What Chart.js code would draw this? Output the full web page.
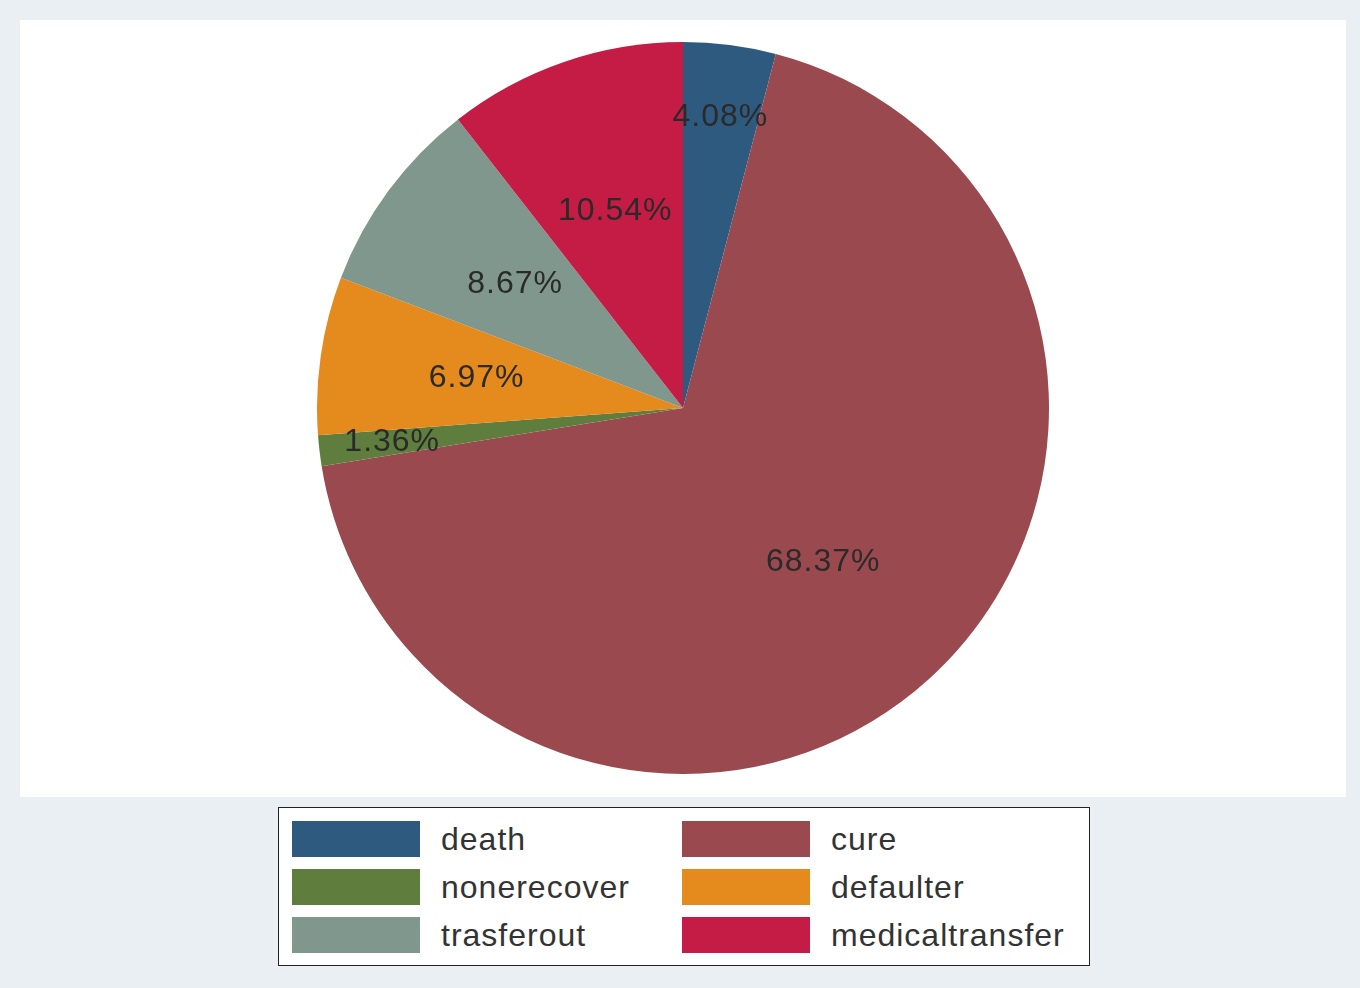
<!DOCTYPE html>
<html>
<head>
<meta charset="utf-8">
<script src="https://cdn.jsdelivr.net/npm/chart.js@4.4.0/dist/chart.umd.min.js"></script>
<style>
  html, body { margin: 0; padding: 0; }
  body { width: 1360px; height: 988px; background: #e9eff2; position: relative; overflow: hidden; font-family: "Liberation Sans", Arial, sans-serif; }
  #plot { position: absolute; left: 20px; top: 20px; width: 1326px; height: 777px; background: #fff; }
  #pieBox { position: absolute; left: 317px; top: 42px; width: 732px; height: 732px; }
  #legend { position: absolute; left: 278px; top: 807px; width: 812px; height: 159px; box-sizing: border-box;
            background: #fff; border: 1.5px solid #222; padding: 13px 0 0 13px;
            display: grid; grid-template-columns: 390px 390px; grid-auto-rows: 36px; row-gap: 12px; }
  .item { display: flex; align-items: center; }
  .swatch { width: 128px; height: 36px; flex: none; }
  .lbl { margin-left: 21px; font-size: 32px; letter-spacing: 1px; color: #333; line-height: 36px; }
</style>
</head>
<body>
<div id="plot"></div>
<div id="pieBox"><canvas id="pieChart"></canvas></div>
<div id="legend"></div>
<script>
// outcome categories and their shares (%)
const categories = ["death", "cure", "nonerecover", "defaulter", "trasferout", "medicaltransfer"];
const shares = [4.08, 68.37, 1.36, 6.97, 8.67, 10.54];
const colors = ["#2e5a80", "#9a4a4f", "#5f7e3e", "#e58a1c", "#7f978d", "#c41c45"];

// percent labels drawn inside each slice; thin slices get their label pushed outward
const sliceLabels = {
  id: 'sliceLabels',
  afterDatasetsDraw(chart) {
    const ctx = chart.ctx;
    const meta = chart.getDatasetMeta(0);
    ctx.save();
    ctx.font = '32px "Liberation Sans", Arial, sans-serif';
    ctx.letterSpacing = '1px';
    ctx.fillStyle = '#2a2a2a';
    ctx.textAlign = 'center';
    ctx.textBaseline = 'middle';
    meta.data.forEach((arc, i) => {
      const p = arc.getProps(['x', 'y', 'startAngle', 'endAngle', 'outerRadius']);
      const mid = (p.startAngle + p.endAngle) / 2;
      const r = p.outerRadius * (shares[i] < 5 ? 0.8 : 0.57);
      ctx.fillText(shares[i].toFixed(2) + '%', p.x + Math.cos(mid) * r, p.y + Math.sin(mid) * r);
    });
    ctx.restore();
  }
};

new Chart(document.getElementById('pieChart'), {
  type: 'pie',
  data: {
    labels: categories,
    datasets: [{
      data: shares,
      backgroundColor: colors,
      borderWidth: 0
    }]
  },
  options: {
    responsive: true,
    maintainAspectRatio: false,
    animation: false,
    layout: { padding: 0 },
    plugins: {
      legend: { display: false },
      tooltip: { enabled: false }
    }
  },
  plugins: [sliceLabels]
});

// legend, two columns, filled row by row
const legend = document.getElementById('legend');
categories.forEach((name, i) => {
  const item = document.createElement('div');
  item.className = 'item';
  item.innerHTML = '<span class="swatch" style="background:' + colors[i] + '"></span><span class="lbl">' + name + '</span>';
  legend.appendChild(item);
});
</script>
</body>
</html>
